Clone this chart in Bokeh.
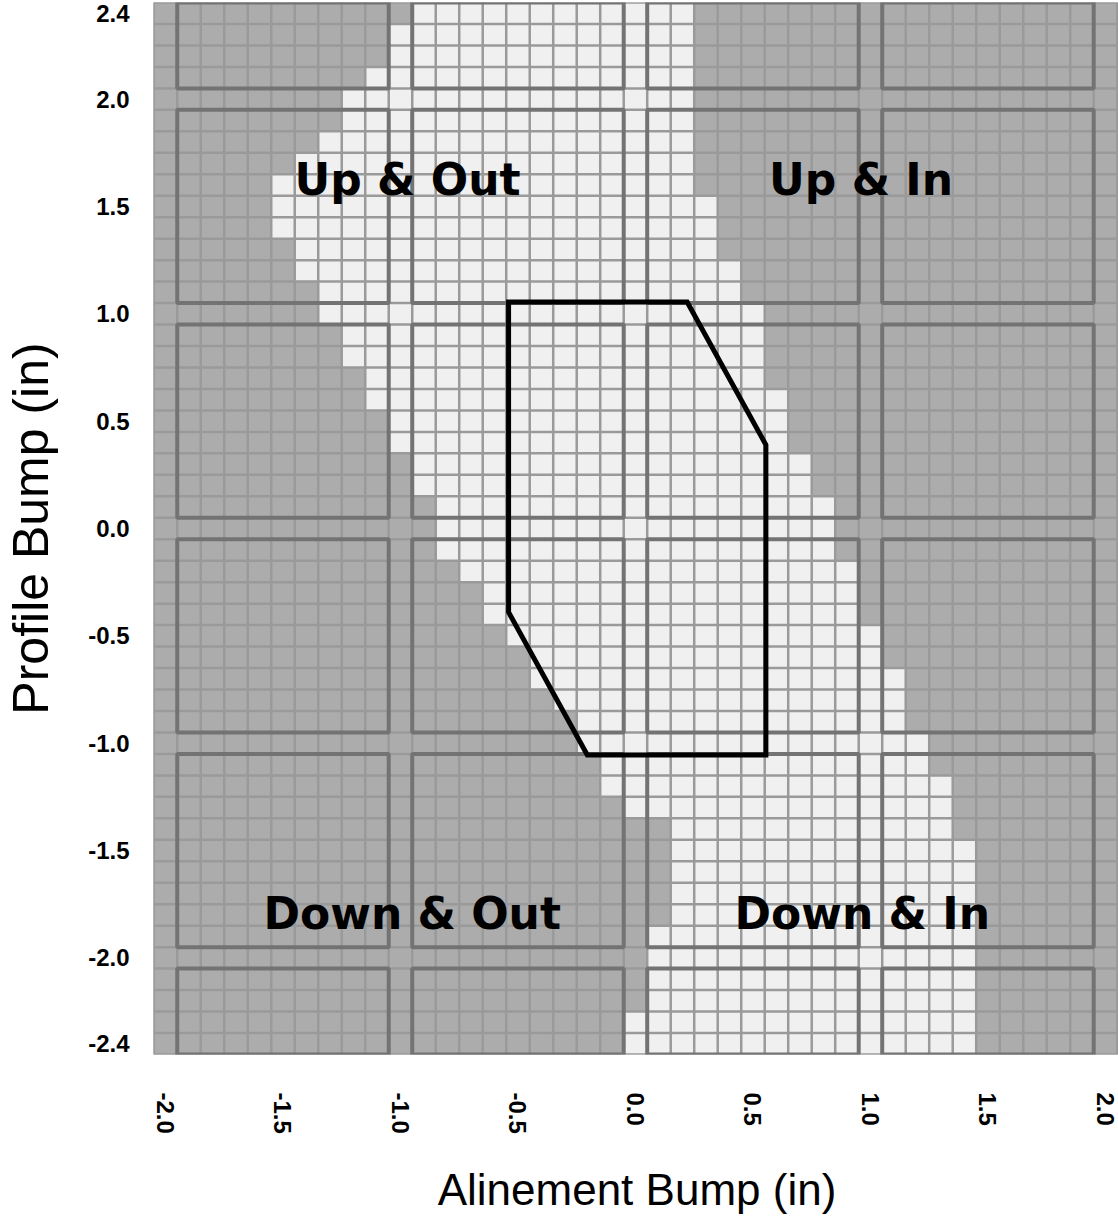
import math
from bokeh.plotting import figure
from bokeh.models import FixedTicker, NumeralTickFormatter
from bokeh.core.properties import value
from bokeh.embed import file_html
from bokeh.resources import INLINE

# ---------------- data ----------------
row_y = [2.4, 2.3, 2.2, 2.1, 2.0, 1.9, 1.8, 1.7, 1.6, 1.5, 1.4, 1.3, 1.2, 1.1,
         1.0, 0.9, 0.8, 0.7, 0.6, 0.5, 0.4, 0.3, 0.2, 0.1, 0.0, -0.1, -0.2,
         -0.3, -0.4, -0.5, -0.6, -0.7, -0.8, -0.9, -1.0, -1.1, -1.2, -1.3,
         -1.4, -1.5, -1.6, -1.7, -1.8, -1.9, -2.0, -2.1, -2.2, -2.3, -2.4]
col_x = [-2.0, -1.9, -1.8, -1.7, -1.6, -1.5, -1.4, -1.3, -1.2, -1.1, -1.0,
         -0.9, -0.8, -0.7, -0.6, -0.5, -0.4, -0.3, -0.2, -0.1, 0.0, 0.1, 0.2,
         0.3, 0.4, 0.5, 0.6, 0.7, 0.8, 0.9, 1.0, 1.1, 1.2, 1.3, 1.4, 1.5, 1.6,
         1.7, 1.8, 1.9, 2.0]
# light (acceptable) band per row: first and last light cell
band_lo = [-0.9, -1.0, -1.0, -1.1, -1.2, -1.2, -1.3, -1.4, -1.5, -1.5, -1.5,
           -1.4, -1.4, -1.3, -1.3, -1.2, -1.2, -1.1, -1.1, -1.0, -1.0, -0.9,
           -0.9, -0.8, -0.8, -0.8, -0.7, -0.6, -0.6, -0.5, -0.4, -0.4, -0.3,
           -0.2, -0.2, -0.1, -0.1, 0.0, 0.2, 0.2, 0.2, 0.2, 0.2, 0.1, 0.1,
           0.1, 0.1, 0.0, 0.0]
band_hi = [0.2, 0.2, 0.2, 0.2, 0.2, 0.2, 0.2, 0.2, 0.2, 0.3, 0.3, 0.3, 0.4,
           0.4, 0.5, 0.5, 0.5, 0.5, 0.6, 0.6, 0.6, 0.7, 0.7, 0.8, 0.8, 0.8,
           0.9, 0.9, 0.9, 1.0, 1.0, 1.1, 1.1, 1.1, 1.2, 1.2, 1.3, 1.3, 1.3,
           1.4, 1.4, 1.4, 1.4, 1.4, 1.4, 1.4, 1.4, 1.4, 1.4]
poly_x = [-0.54, 0.22, 0.555, 0.555, -0.205, -0.54]
poly_y = [1.055, 1.055, 0.39, -1.055, -1.055, -0.39]
quad_labels = ["Up & Out", "Up & In", "Down & Out", "Down & In"]
quad_x = [-0.97, 0.96, -0.95, 0.965]
quad_y = [1.625, 1.625, -1.795, -1.795]
x_ticks = [-2.0, -1.5, -1.0, -0.5, 0.0, 0.5, 1.0, 1.5, 2.0]
y_ticks = [2.4, 2.0, 1.5, 1.0, 0.5, 0.0, -0.5, -1.0, -1.5, -2.0, -2.4]

# ---------------- styles ----------------
DARK = "#acacac"
LIGHT = "#f0f0f0"
THIN = "#9a9a9a"
THICK = "#737373"
CELL = 0.1
HALF = CELL / 2

p = figure(frame_width=967, frame_height=1052,
           x_range=(-2.051, 2.064), y_range=(-2.45, 2.45),
           output_backend="svg", toolbar_location=None,
           min_border_left=143, min_border_right=0,
           min_border_top=2, min_border_bottom=156)
p.outline_line_color = None
p.grid.visible = False
p.background_fill_color = DARK

# cells
L, R, T, B, C = [], [], [], [], []
for y, lo, hi in zip(row_y, band_lo, band_hi):
    for x in col_x:
        L.append(x - HALF); R.append(x + HALF)
        B.append(y - HALF); T.append(y + HALF)
        C.append(LIGHT if lo - 1e-6 <= x <= hi + 1e-6 else DARK)
p.quad(left=L, right=R, bottom=B, top=T, fill_color=C, line_color=None)

# thin grid lines
xmin, xmax = col_x[0] - HALF, col_x[-1] + HALF
ymin, ymax = row_y[-1] - HALF, row_y[0] + HALF
vx = [x - HALF for x in col_x] + [xmax]
hy = [y - HALF for y in row_y] + [ymax]
p.segment(x0=vx, y0=[ymin] * len(vx), x1=vx, y1=[ymax] * len(vx),
          line_color=THIN, line_width=2.5)
p.segment(x0=[xmin] * len(hy), y0=hy, x1=[xmax] * len(hy), y1=hy,
          line_color=THIN, line_width=2.5)

# block outlines (blocks between the whole-inch gap rows/columns)
bx = [(-1.95, -1.05), (-0.95, -0.05), (0.05, 0.95), (1.05, 1.95)]
by = [(2.05, 2.45), (1.05, 1.95), (0.05, 0.95), (-0.95, -0.05),
      (-1.95, -1.05), (-2.45, -2.05)]
bl, br, bb, bt = [], [], [], []
for (x0, x1) in bx:
    for (y0, y1) in by:
        bl.append(x0); br.append(x1); bb.append(y0); bt.append(y1)
p.quad(left=bl, right=br, bottom=bb, top=bt, fill_alpha=0,
       line_color=THICK, line_width=4)

# acceptance polygon
p.patch(poly_x, poly_y, fill_alpha=0, line_color="black", line_width=5,
        line_join="miter")

# quadrant labels
p.text(x=quad_x, y=quad_y, text=quad_labels,
       text_font=value("DejaVu Sans"), text_font_style="bold",
       text_font_size="44px", text_align="center",
       text_baseline="alphabetic", text_color="black")

# axes
for ax in (p.xaxis[0], p.yaxis[0]):
    ax.axis_line_color = None
    ax.major_tick_line_color = None
    ax.minor_tick_line_color = None
    ax.major_tick_out = 0
    ax.major_tick_in = 0
    ax.formatter = NumeralTickFormatter(format="0.0")
    ax.major_label_text_font = "Liberation Sans"
    ax.major_label_text_font_style = "bold"
    ax.major_label_text_font_size = "24px"
    ax.major_label_text_color = "black"
    ax.axis_label_text_font = "Liberation Sans"
    ax.axis_label_text_font_style = "normal"
    ax.axis_label_text_color = "black"

p.xaxis.ticker = FixedTicker(ticks=x_ticks)
p.yaxis.ticker = FixedTicker(ticks=y_ticks)
p.xaxis.major_label_orientation = -math.pi / 2
p.xaxis.major_label_standoff = 38
p.yaxis.major_label_standoff = 24
p.xaxis.axis_label = "Alinement Bump (in)"
p.yaxis.axis_label = "Profile Bump (in)"
p.xaxis.axis_label_text_font_size = "44px"
p.yaxis.axis_label_text_font_size = "50px"
p.xaxis.axis_label_standoff = 28
p.yaxis.axis_label_standoff = 26

open("out.html", "w").write(file_html(p, INLINE))
